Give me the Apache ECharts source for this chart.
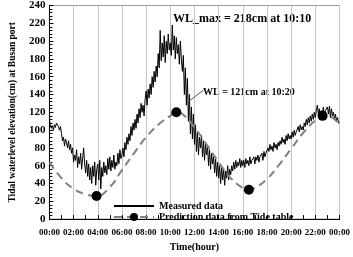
<!DOCTYPE html>
<html>
<head>
<meta charset="utf-8">
<script src="https://cdn.jsdelivr.net/npm/echarts@6/dist/echarts.min.js"></script>
<style>
  html, body { margin: 0; padding: 0; background: #fff; }
  #chart { width: 353px; height: 257px; }
</style>
</head>
<body>
<div id="chart"></div>
<script>
// tick labels on the time axis (every 2 h)
var timeLabels = ['00:00', '02:00', '04:00', '06:00', '08:00', '10:00', '12:00',
    '14:00', '16:00', '18:00', '20:00', '22:00', '00:00'];

// measured water level, one value every 5 minutes from 00:00 to 24:00 (cm)
var measuredLevel = [
    112, 106, 102, 105, 100, 106, 103, 108, 107, 104, 100, 104,
    96, 88, 92, 82, 90, 86, 80, 88, 78, 84, 74, 80,
    64, 72, 66, 78, 58, 70, 62, 74, 56, 68, 80, 62,
    52, 66, 48, 62, 44, 58, 40, 60, 48, 64, 38, 56,
    62, 44, 66, 34, 58, 48, 64, 52, 60, 50, 68, 56,
    70, 54, 66, 58, 72, 56, 64, 60, 74, 62, 78, 68,
    72, 80, 70, 86, 78, 92, 84, 96, 88, 104, 94, 108,
    100, 112, 102, 118, 108, 124, 114, 130, 120, 128, 116, 134,
    144, 128, 146, 136, 152, 140, 160, 148, 166, 154, 172, 160,
    186, 170, 212, 178, 198, 182, 206, 176, 200, 186, 208, 190,
    198, 184, 218, 190, 206, 180, 204, 186, 196, 174, 200, 180,
    166, 184, 140, 170, 128, 158, 110, 140, 96, 126, 90, 118,
    84, 106, 76, 98, 72, 92, 80, 94, 70, 88, 66, 84,
    72, 82, 60, 78, 56, 74, 62, 70, 52, 68, 48, 64,
    46, 60, 40, 58, 44, 56, 38, 54, 46, 60, 44, 56,
    50, 60, 54, 64, 56, 66, 58, 64, 60, 68, 58, 66,
    60, 66, 58, 68, 62, 66, 60, 70, 62, 66, 64, 70,
    62, 70, 66, 72, 64, 70, 68, 74, 66, 76, 70, 74,
    74, 80, 76, 84, 78, 82, 76, 86, 80, 84, 78, 86,
    82, 88, 84, 92, 86, 90, 84, 94, 88, 96, 90, 94,
    90, 98, 92, 100, 94, 98, 96, 104, 98, 106, 100, 104,
    100, 108, 104, 112, 106, 114, 108, 116, 110, 118, 112, 120,
    114, 122, 128, 118, 124, 114, 122, 118, 126, 116, 122, 120,
    126, 118, 127, 114, 124, 116, 120, 112, 118, 110, 114, 108,
    108
];
var measuredStepMin = 5;

// prediction from the tide table (hours, cm)
var predTime  = [0, 1, 2, 3, 3.9, 5, 6, 7, 8, 9, 10, 10.5, 11, 12, 13, 14, 15, 16, 16.5, 17, 18, 19, 20, 21, 22, 22.6, 23, 24];
var predLevel = [64, 46, 34, 28, 26, 36, 55, 74, 92, 106, 116, 120, 118, 103, 84, 64, 46, 35, 33, 35, 45, 61, 79, 97, 111, 116, 116, 106];
// tide table high / low water points (drawn as dots)
var tideTableTime = [3.9, 10.5, 16.5, 22.6];

var serif = 'Liberation Serif';

var measuredData = measuredLevel.map(function (v, i) {
    return [i * measuredStepMin / 60, v];
});
var predData = predTime.map(function (t, i) {
    var dot = tideTableTime.indexOf(t) >= 0;
    return { value: [t, predLevel[i]], symbolSize: dot ? 10 : 0 };
});

var chart = echarts.init(document.getElementById('chart'));

var option = {
    animation: false,
    backgroundColor: '#fff',
    textStyle: { fontFamily: serif, fontWeight: 'bold', color: '#000' },
    grid: {
        left: 38, right: 6, top: 5, bottom: 32,
        show: true, borderColor: '#999', borderWidth: 1
    },
    legend: {
        orient: 'vertical',
        left: 108, top: 196,
        itemWidth: 40, itemHeight: 10, itemGap: 1,
        textStyle: { fontFamily: serif, fontWeight: 'bold', fontSize: 10, color: '#000' },
        data: [
            { name: 'Measured data', itemStyle: { opacity: 0 } },
            { name: 'Prediction data from Tide table' }
        ]
    },
    xAxis: {
        type: 'value',
        min: 0, max: 24, interval: 2,
        name: 'Time(hour)',
        nameLocation: 'middle',
        nameGap: 20,
        nameTextStyle: { fontFamily: serif, fontWeight: 'bold', fontSize: 10, color: '#000' },
        axisLine: { lineStyle: { color: '#000', width: 1 } },
        axisTick: { inside: true, length: 4, lineStyle: { color: '#000' } },
        minorTick: { show: true, splitNumber: 2, length: 4, lineStyle: { color: '#000' } },
        splitLine: { show: true, lineStyle: { color: '#c4c4c4', width: 1 } },
        axisLabel: {
            margin: 9,
            fontFamily: serif, fontWeight: 'bold', fontSize: 9, color: '#000',
            formatter: function (v) { return timeLabels[Math.round(v / 2)]; }
        }
    },
    yAxis: {
        type: 'value',
        min: 0, max: 240, interval: 20,
        name: 'Tidal waterlevel elevation(cm) at Busan port',
        nameLocation: 'middle',
        nameGap: 27,
        nameTextStyle: { fontFamily: serif, fontWeight: 'bold', fontSize: 9.5, color: '#000' },
        axisLine: { show: true, lineStyle: { color: '#000', width: 1 } },
        axisTick: { show: true, inside: true, length: 4, lineStyle: { color: '#000' } },
        minorTick: { show: true, splitNumber: 5, length: 3, lineStyle: { color: '#000' } },
        splitLine: { show: false },
        axisLabel: {
            margin: 4,
            fontFamily: serif, fontWeight: 'bold', fontSize: 11, color: '#000'
        }
    },
    series: [
        {
            name: 'Measured data',
            type: 'line',
            symbol: 'none',
            data: measuredData,
            lineStyle: { color: '#000', width: 1 },
            itemStyle: { color: '#000' },
            markLine: {
                silent: true,
                symbol: 'none',
                label: { show: false },
                lineStyle: { color: '#555', width: 1, type: 'solid' },
                data: [[{ coord: [11.4, 131] }, { coord: [12.75, 145] }]]
            },
            z: 3
        },
        {
            name: 'Prediction data from Tide table',
            type: 'line',
            smooth: true,
            symbol: 'circle',
            symbolSize: 10,
            showSymbol: true,
            data: predData,
            lineStyle: { color: '#808080', width: 2, type: [8, 5] },
            itemStyle: { color: '#000' },
            z: 4
        }
    ],
    graphic: [
        {
            type: 'text', left: 173, top: 13,
            style: { text: 'WL_max = 218cm at 10:10', fontFamily: serif, fontWeight: 'bold', fontSize: 12, fill: '#000' }
        },
        {
            type: 'text', left: 203, top: 87,
            style: { text: 'WL = 121cm at 10:20', fontFamily: serif, fontWeight: 'bold', fontSize: 10, fill: '#000' }
        }
    ]
};

chart.setOption(option);
</script>
</body>
</html>
